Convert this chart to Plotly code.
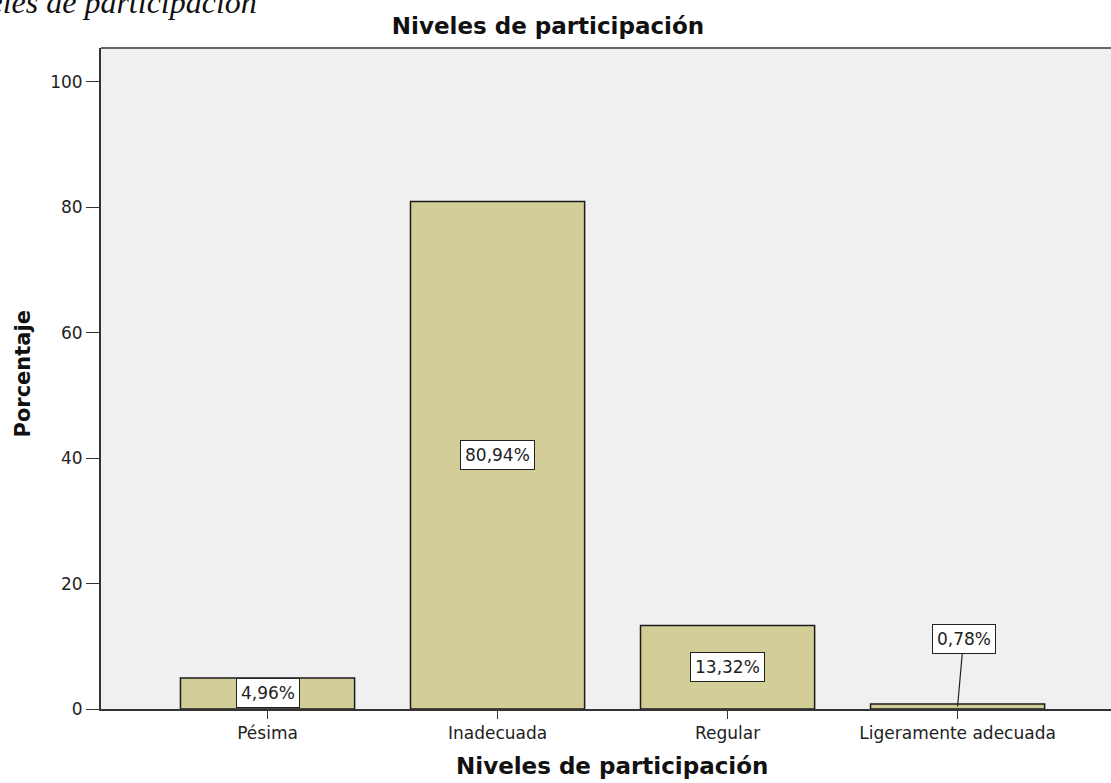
import plotly.graph_objects as go

categories = ["Pésima", "Inadecuada", "Regular", "Ligeramente adecuada"]
percentages = [4.96, 80.94, 13.32, 0.78]
y_ticks = [0, 20, 40, 60, 80, 100]

BAR = "#D3CE97"
FONT = "DejaVu Sans, Verdana, sans-serif"

fig = go.Figure()
fig.add_trace(go.Bar(
    x=list(range(len(categories))), y=percentages, width=0.757,
    marker=dict(color=BAR, line=dict(color="#1a1a1a", width=1.5)),
    hoverinfo="skip",
))

labels = [f"{v:.2f}".replace(".", ",") + "%" for v in percentages]
for i, (v, t) in enumerate(zip(percentages, labels)):
    common = dict(x=i, y=v / 2, text=t, bgcolor="white", bordercolor="#222",
                  borderwidth=1, borderpad=4,
                  font=dict(family=FONT, size=17, color="#222"))
    if v < 2:
        fig.add_annotation(**common, showarrow=True, arrowhead=0, arrowwidth=1.2,
                           arrowcolor="#222", ax=6, ay=-68)
    else:
        fig.add_annotation(**common, showarrow=False)

# top frame line
fig.add_shape(type="line", xref="paper", yref="paper", x0=0, x1=1, y0=1, y1=1,
              line=dict(color="#666", width=2))

# clipped caption text at top-left (cut off by the page edge, as in the reference)
fig.add_annotation(xref="paper", yref="paper", x=(259 - 101) / 1010, y=1.0,
                   xanchor="right", yanchor="bottom", yshift=26,
                   text="<i>Niveles de participación</i>", showarrow=False,
                   font=dict(family="Liberation Serif, Times New Roman, serif",
                             size=32, color="#111"))

# x-axis title
fig.add_annotation(xref="paper", yref="paper", x=(612 - 101) / 1010, y=0,
                   xanchor="center", yanchor="middle", yshift=-57,
                   text="<b>Niveles de participación</b>", showarrow=False,
                   font=dict(family=FONT, size=23, color="#111"))

# y-axis title
fig.add_annotation(xref="paper", yref="paper", x=0, y=0.5, xshift=-(101 - 22),
                   yshift=(378 - 374), xanchor="center", yanchor="middle",
                   textangle=-90, text="<b>Porcentaje</b>", showarrow=False,
                   font=dict(family=FONT, size=21, color="#111"))

fig.update_layout(
    width=1111, height=783,
    margin=dict(l=101, r=0, t=48, b=74),
    paper_bgcolor="white", plot_bgcolor="#F0F0F0",
    showlegend=False,
    title=dict(text="<b>Niveles de participación</b>", x=548 / 1111, xanchor="center",
               y=1 - 26 / 783, yanchor="middle",
               font=dict(family=FONT, size=23, color="#111")),
    xaxis=dict(range=[-0.724, 3.667], tickmode="array",
               tickvals=list(range(len(categories))), ticktext=categories,
               showline=True, linecolor="#333", linewidth=1.5,
               ticks="outside", ticklen=8, tickcolor="#333",
               showgrid=False, zeroline=False,
               tickfont=dict(family=FONT, size=17, color="#222")),
    yaxis=dict(range=[0, 105.4], tickvals=y_ticks,
               showline=True, linecolor="#333", linewidth=2,
               ticks="outside", ticklen=13, tickcolor="#333",
               showgrid=False, zeroline=False,
               tickfont=dict(family=FONT, size=17, color="#222")),
)

fig.write_html("out.html", config={"displayModeBar": False},
               post_script="document.body.style.margin='0';")
